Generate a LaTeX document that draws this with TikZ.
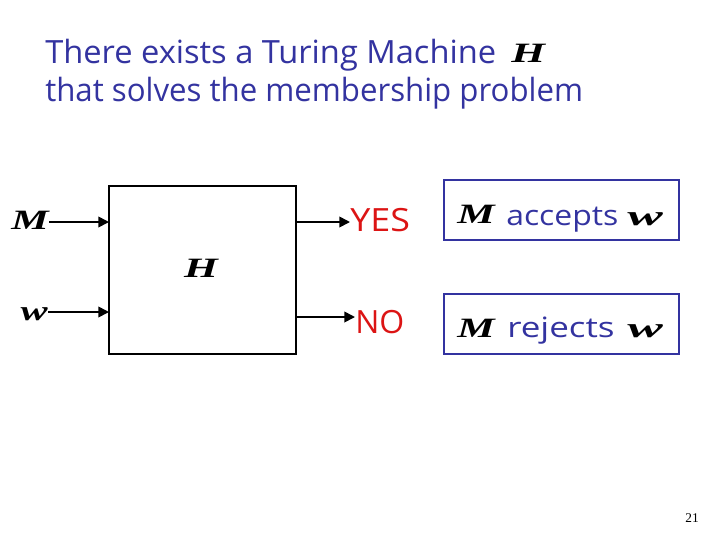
\documentclass[tikz,border=0pt]{standalone}
\usepackage{graphicx}
\usepackage{fontspec}
\setmainfont{Liberation Serif}
\newfontfamily\comic{Open Sans}
\newfontfamily\varfont{Liberation Serif Bold Italic}
\usetikzlibrary{arrows.meta}
\definecolor{tblue}{RGB}{51,51,160}
\definecolor{tred}{RGB}{220,20,20}
\newcommand\sx[2]{\scalebox{#1}[1]{#2}}
\tikzset{
  title/.style={anchor=base west,inner sep=0pt,font=\comic\fontsize{24}{24}\selectfont,text=tblue},
  mvar/.style={inner sep=0pt,font=\varfont\fontsize{21}{21}\selectfont,text=black},
  ans/.style={anchor=base west,inner sep=0pt,font=\comic\fontsize{24}{24}\selectfont,text=tred},
  res/.style={anchor=base west,inner sep=0pt,font=\comic\fontsize{21}{21}\selectfont,text=tblue},
  conn/.style={line width=1.3pt,-{Triangle[length=8pt,width=8pt]}},
  machine/.style={draw=black,line width=0.8pt},
  outbox/.style={draw=tblue,line width=0.8pt}
}
\begin{document}
\begin{tikzpicture}[x=0.75pt,y=-0.75pt]
\useasboundingbox[fill=white] (0,0) rectangle (720,540);
% title
\node[title] (t1) at (45,63) {\sx{1.02}{There exists a Turing Machine}};
\node[mvar,anchor=base west] (tH) at (511,62) {\sx{1.55}{H}};
\node[title] (t2) at (45,101) {\sx{0.975}{that solves the membership problem}};
% machine
\draw[machine] (109,186) rectangle (296,354);
\coordinate (inM) at (109,222);
\coordinate (inw) at (109,312);
\coordinate (outY) at (296,222);
\coordinate (outN) at (296,317);
\node[mvar] (H) at (201,268) {\sx{1.55}{H}};
\node[mvar,anchor=base east] (M) at (49,229) {\sx{1.5}{M}};
\node[mvar,anchor=base east] (w) at (48,320) {\sx{1.45}{w}};
\draw[conn] (M.east |- inM) -- (inM);
\draw[conn] (w.east |- inw) -- (inw);
\node[ans] (yes) at (350,231) {\sx{1.12}{YES}};
\node[ans] (no) at (355,333) {NO};
\draw[conn] (outY) -- (yes.west |- outY);
\draw[conn] (outN) -- (no.west |- outN);
% result boxes
\draw[outbox] (444,180) rectangle (679,240);
\draw[outbox] (444,294) rectangle (679,354);
\node[mvar,anchor=base west] (M1) at (457,223) {\sx{1.5}{M}};
\node[res] (acc) at (506,225) {\sx{1.14}{accepts}};
\node[mvar,anchor=base west] (w1) at (627,225) {\sx{1.9}{w}};
\node[mvar,anchor=base west] (M2) at (457,337) {\sx{1.5}{M}};
\node[res] (rej) at (507,337) {\sx{1.25}{rejects}};
\node[mvar,anchor=base west] (w2) at (627,337) {\sx{1.9}{w}};
% page number
\node[anchor=base,inner sep=0pt,font=\fontsize{10}{10}\selectfont] (pg) at (692,522) {21};
\end{tikzpicture}
\end{document}
